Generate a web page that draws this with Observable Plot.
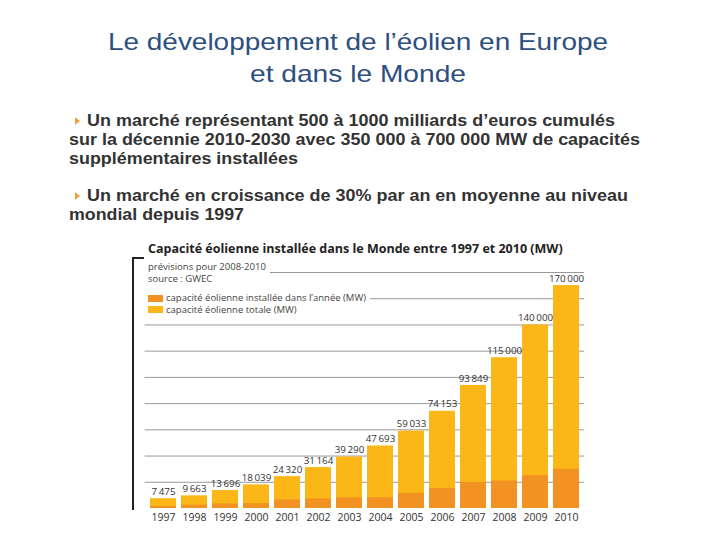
<!DOCTYPE html>
<html><head><meta charset="utf-8">
<script src="https://cdn.jsdelivr.net/npm/d3@7"></script>
<script src="https://cdn.jsdelivr.net/npm/@observablehq/plot@0.6"></script>
<style>
body{margin:0;background:#fff;}
#page{position:relative;width:720px;height:540px;overflow:hidden;font-family:"Liberation Sans",Arial,sans-serif;}
.ln{position:absolute;white-space:nowrap;line-height:1;transform-origin:0 0;}
.t{color:#2c4f80;font-size:24px;}
.b{font-weight:bold;font-size:17px;color:#333;}
.tri{position:absolute;width:0;height:0;border-top:4px solid transparent;border-bottom:4px solid transparent;border-left:5.5px solid #f0a040;}
#chart{position:absolute;left:0;top:240px;}
.ov{position:absolute;font-family:"Open Sans",sans-serif;color:#444;background:#fff;white-space:nowrap;}
#bracket{position:absolute;left:132px;top:257px;width:10px;height:251px;border-left:2.5px solid #222;border-top:2.5px solid #222;}
.sw{display:inline-block;width:15px;height:7px;margin-right:3px;vertical-align:-0.5px;}
</style></head>
<body><div id="page">
<div id="bracket"></div>
<div id="chart"></div>
</div>
<script>
const titleLines = ["Le développement de l’éolien en Europe","et dans le Monde"];
const bullet1 = ["Un marché représentant 500 à 1000 milliards d’euros cumulés","sur la décennie 2010-2030 avec 350 000 à 700 000 MW de capacités","supplémentaires installées"];
const bullet2 = ["Un marché en croissance de 30% par an en moyenne au niveau","mondial depuis 1997"];
const years = ["1997","1998","1999","2000","2001","2002","2003","2004","2005","2006","2007","2008","2009","2010"];
const totalMW = [7475,9663,13696,18039,24320,31164,39290,47693,59033,74153,93849,115000,140000,170000];
const annualMW = [1530,2520,3440,3760,6500,7270,8133,8207,11531,15245,19866,21000,25000,30000];
const chartTitle = "Capacité éolienne installée dans le Monde entre 1997 et 2010 (MW)";
const subtitle1 = "prévisions pour 2008-2010";
const subtitle2 = "source : GWEC";
const legendAnnual = "capacité éolienne installée dans l’année (MW)";
const legendTotal = "capacité éolienne totale (MW)";
const colTotal = "#fbb617";
const colAnnual = "#f29222";

const page = document.getElementById("page");
function line(txt, cls, left, baseline, targetW, center){
  const d=document.createElement("div");
  d.className="ln "+cls; d.textContent=txt; page.append(d);
  const fs=parseFloat(getComputedStyle(d).fontSize);
  d.style.top=(baseline-0.8465*fs)+"px";
  const w=d.getBoundingClientRect().width;
  d.style.transform=`scaleX(${targetW/w})`;
  d.style.left=(center? left-targetW/2 : left)+"px";
  return d;
}
line(titleLines[0],"t",358,50,500,true);
line(titleLines[1],"t",358,82,216,true);
line(bullet1[0],"b",87,126,528);
line(bullet1[1],"b",69,145,571);
line(bullet1[2],"b",69,164,229);
line(bullet2[0],"b",87,201,541);
line(bullet2[1],"b",69,220,175);
function tri(top){const t=document.createElement("div");t.className="tri";t.style.left="75px";t.style.top=top+"px";page.append(t);}
tri(117); tri(192);

const data = years.map((y,i)=>({year:y,total:totalMW[i],annual:annualMW[i]}));
const fmt = d3.formatLocale({thousands:"\u2009",grouping:[3],decimal:",",currency:["","€"]}).format(",d");

const plot = Plot.plot({
  width:720, height:290,
  marginLeft:144.6, marginRight:135.8, marginTop:32, marginBottom:22,
  style:{fontFamily:"Open Sans, sans-serif", background:"transparent"},
  x:{domain:years, paddingInner:0.15, paddingOuter:0.075, label:null},
  y:{domain:[0,180000], axis:null},
  marks:[
    Plot.gridY(d3.range(20000,180001,20000),{stroke:"#999",strokeOpacity:1,strokeWidth:1}),
    Plot.barY(data,{x:"year",y:"total",fill:colTotal}),
    Plot.barY(data,{x:"year",y:"annual",fill:colAnnual}),
    Plot.text(data,{x:"year",y:"total",text:d=>fmt(d.total),dy:-7,fontSize:9.8,fill:"#333"}),
    Plot.axisX({tickSize:0,tickPadding:5,fontSize:10.5,fill:"#333",label:null})
  ]
});
document.getElementById("chart").append(plot);

function ov(html, css){const d=document.createElement("div");d.className="ov";d.innerHTML=html;Object.assign(d.style,css);page.append(d);return d;}
ov(chartTitle,{left:"148px",top:"240px",fontSize:"12.5px",fontWeight:"bold",color:"#222",background:"transparent"});
ov(subtitle1+"<br>"+subtitle2,{left:"143px",top:"261px",fontSize:"9.5px",lineHeight:"12px",paddingLeft:"5px",paddingRight:"4px"});
ov(`<span class="sw" style="background:${colAnnual}"></span>${legendAnnual}<br><span class="sw" style="background:${colTotal}"></span>${legendTotal}`,{left:"143px",top:"292px",fontSize:"9.5px",lineHeight:"11.5px",paddingLeft:"5px",paddingRight:"4px"});
</script>
</body></html>
